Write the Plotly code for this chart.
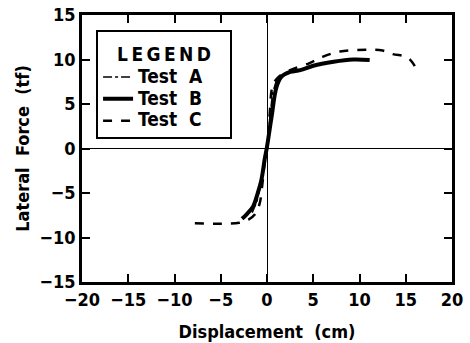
import plotly.graph_objects as go

# Test A (dash-dot)
a_x = [-1.6, -1.1, -0.7, -0.4, 0.0, 0.3, 0.6, 1.0, 1.5]
a_y = [-7.2, -6.0, -4.2, -2.2, 0.0, 3.5, 6.2, 7.6, 8.1]
# Test B (solid)
b_x = [-2.7, -2.2, -1.5, -1.0, -0.6, -0.25, 0.0, 0.5, 1.0, 1.5, 2.5, 3.6, 5.0, 7.2, 9.3, 11.1]
b_y = [-7.9, -7.4, -6.5, -5.0, -3.5, -1.2, 0.2, 3.6, 6.8, 8.0, 8.6, 8.8, 9.3, 9.75, 10.0, 9.95]
# Test C (dashed)
c_x = [-7.8, -5.0, -3.0, -2.0, -1.3, -0.8, -0.5, -0.3, 0.0, 0.3, 0.6, 1.2, 2.5, 4.6, 6.0, 7.9, 10.8, 12.5, 13.6, 15.1, 15.7, 16.2]
c_y = [-8.4, -8.45, -8.35, -8.0, -7.4, -6.2, -4.0, -2.0, 0.0, 4.0, 7.0, 8.0, 8.8, 9.6, 10.3, 10.9, 11.1, 11.0, 10.6, 10.3, 9.7, 8.8]

series_names = ["Test  A", "Test  B", "Test  C"]
tick_vals = [-20, -15, -10, -5, 0, 5, 10, 15, 20]
y_tick_vals = [-15, -10, -5, 0, 5, 10, 15]

FONT = "DejaVu Sans Condensed"
THIN = "\u2009"


def big(txt, size=19):
    return f'<span style="font-size:{size}px">{txt}</span>'


pad = "\u00a0" * 5
fig = go.Figure()
fig.add_trace(go.Scatter(x=a_x, y=a_y, mode="lines", name=big(series_names[0]) + pad,
                         line=dict(color="black", width=1.5, dash="dashdot")))
fig.add_trace(go.Scatter(x=b_x, y=b_y, mode="lines", name=big(series_names[1]) + pad,
                         line=dict(color="black", width=4, shape="spline")))
fig.add_trace(go.Scatter(x=c_x, y=c_y, mode="lines", name=big(series_names[2]) + pad,
                         line=dict(color="black", width=2.5, dash="dash", shape="spline")))

axis_common = dict(
    showgrid=False, zeroline=True, zerolinecolor="black", zerolinewidth=1.2,
    showline=True, linecolor="black", linewidth=2.5, mirror="ticks",
    ticks="inside", ticklen=8, tickwidth=1.5, tickcolor="black",
    tickfont=dict(family=FONT, size=18, color="black", weight="bold"),
    automargin=False,
)

fig.update_layout(
    width=470, height=343,
    margin=dict(l=82, r=18, t=15, b=61),
    paper_bgcolor="white", plot_bgcolor="white",
    font=dict(family=FONT, color="black"),
    xaxis=dict(range=[-20, 20], tickvals=tick_vals,
               title=dict(text="Displacement  (cm)",
                          font=dict(family=FONT, size=18, color="black", weight="bold"), standoff=17),
               **axis_common),
    yaxis=dict(range=[-15, 15], tickvals=y_tick_vals,
               title=dict(text="Lateral  Force  (tf)",
                          font=dict(family=FONT, size=18, color="black", weight="bold"), standoff=6),
               **axis_common),
    showlegend=True,
    legend=dict(
        x=0.038, y=0.942, xanchor="left", yanchor="top",
        bordercolor="black", borderwidth=2, bgcolor="white",
        font=dict(family=FONT, size=14.5, color="black", weight="bold"),
        title=dict(text=big(THIN.join("LEGEND"), 19), side="top center",
                   font=dict(family=FONT, size=22, color="black", weight="bold")),
        tracegroupgap=0, itemwidth=30,
    ),
)

fig.write_html("out.html")
